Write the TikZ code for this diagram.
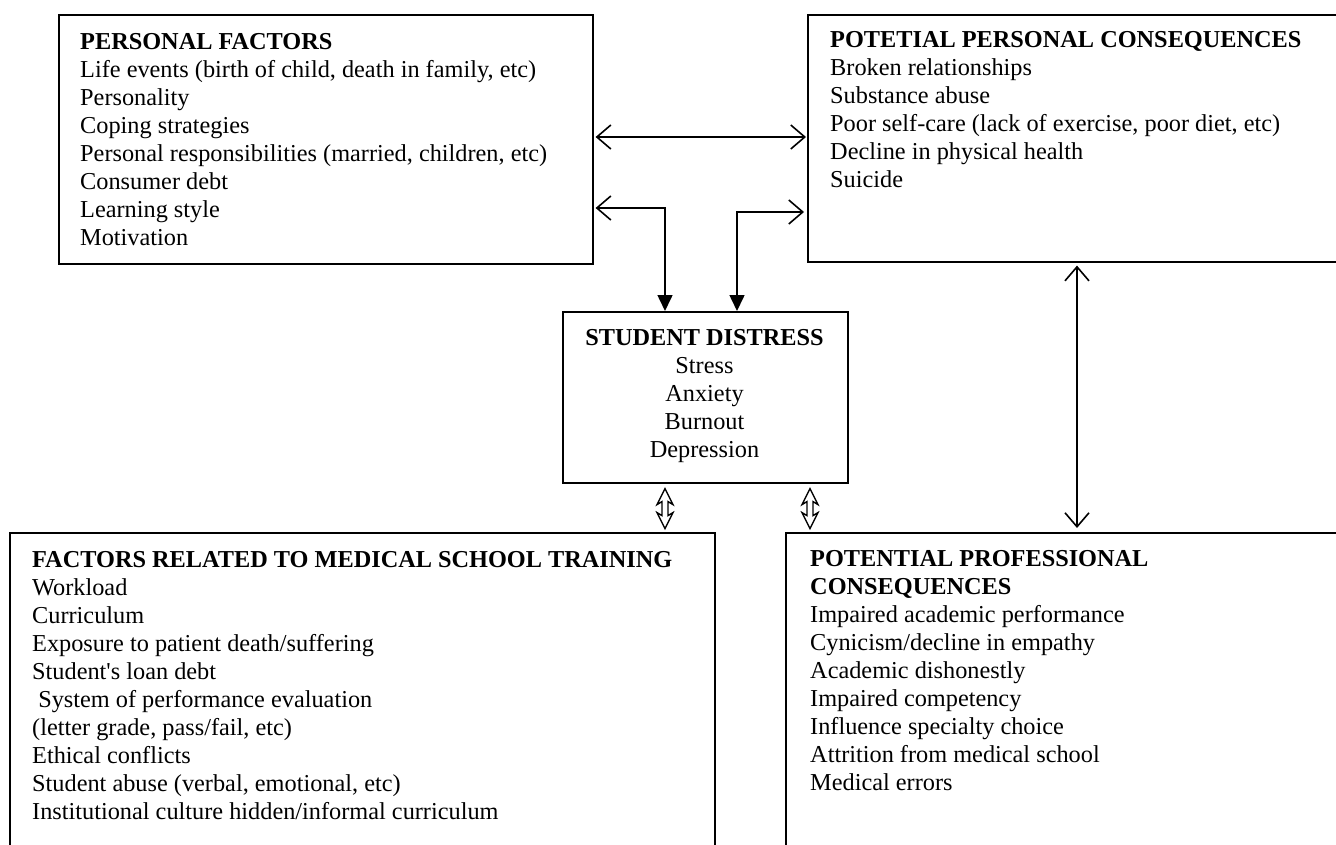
\documentclass[tikz,border=0pt]{standalone}
\usepackage{fontspec}
\setmainfont{Liberation Serif}
\usetikzlibrary{arrows.meta,calc}
\tikzset{
  boxnode/.style={draw, line width=1.6pt, inner sep=0pt, anchor=north west},
  txtnode/.style={inner sep=0pt, anchor=north west, align=left, font=\fontsize{24.3}{28}\selectfont},
  conn/.style={line width=1.6pt},
  barb/.tip={Straight Barb[length=14pt,width=24pt,line width=1.6pt]},
  tri/.tip={Triangle[length=16pt,width=15pt]},
  hollowdbl/.style={line width=1.4pt, line join=miter}
}
\begin{document}
\begin{tikzpicture}[x=1pt,y=-1pt]
\useasboundingbox (0,0) rectangle (1336,845);
\clip (0,0) rectangle (1336,845);
\fill[white] (0,0) rectangle (1336,845);

% boxes
\node[boxnode, minimum width=534pt, minimum height=249pt] (pf) at (58,14) {};
\node[boxnode, minimum width=560pt, minimum height=247pt] (pc) at (807,14) {};
\node[boxnode, minimum width=285pt, minimum height=171pt] (sd) at (562,311) {};
\node[boxnode, minimum width=705pt, minimum height=340pt] (fms) at (9,532) {};
\node[boxnode, minimum width=600pt, minimum height=340pt] (ppc) at (785,532) {};

% texts
\node[txtnode] (pft) at (80,29.4) {\strut\textbf{PERSONAL FACTORS}\\
Life events (birth of child, death in family, etc)\\
Personality\\
Coping strategies\\
Personal responsibilities (married, children, etc)\\
Consumer debt\\
Learning style\\
Motivation};

\node[txtnode] (pct) at (830,27.4) {\strut\textbf{POTETIAL PERSONAL CONSEQUENCES}\\
Broken relationships\\
Substance abuse\\
Poor self-care (lack of exercise, poor diet, etc)\\
Decline in physical health\\
Suicide};

\node[txtnode, anchor=north, align=center] (sdt) at (704.5,325.4) {\strut\textbf{STUDENT DISTRESS}\\
Stress\\
Anxiety\\
Burnout\\
Depression};

\node[txtnode] (fmst) at (32,547.4) {\strut\textbf{FACTORS RELATED TO MEDICAL SCHOOL TRAINING}\\
Workload\\
Curriculum\\
Exposure to patient death/suffering\\
Student\textquotesingle s loan debt\\
\ System of performance evaluation\\
(letter grade, pass/fail, etc)\\
Ethical conflicts\\
Student abuse (verbal, emotional, etc)\\
Institutional culture hidden/informal curriculum};

\node[txtnode] (ppct) at (810,546.4) {\strut\textbf{POTENTIAL PROFESSIONAL}\\
\textbf{CONSEQUENCES}\\
Impaired academic performance\\
Cynicism/decline in empathy\\
Academic dishonestly\\
Impaired competency\\
Influence specialty choice\\
Attrition from medical school\\
Medical errors};

% connector helper coordinates
\coordinate (h1) at (700,137);
\coordinate (c1) at (665,208);
\coordinate (c2) at (737,212);
\coordinate (v4) at (1077,400);
\coordinate (d1) at (665,507);
\coordinate (d2) at (810,507);

% connectors
\draw[conn, {barb}-{barb}, shorten <=2pt, shorten >=1pt] (pf.east |- h1) -- (pc.west |- h1);
\draw[conn, {barb}-{tri}, shorten <=2pt] (pf.east |- c1) -- (c1) -- (c1 |- sd.north);
\draw[conn, {tri}-{barb}, shorten >=3pt] (c2 |- sd.north) -- (c2) -- (c2 -| pc.west);
\draw[conn, {barb}-{barb}, shorten <=3pt, shorten >=4pt] (v4 |- pc.south) -- (v4 |- ppc.north);
% hollow up-down arrows between student distress and the lower boxes
\draw[hollowdbl] ($(d1 |- sd.south)+(0,5)$) -- ++(-8,16) -- ++(5,-3) -- ++(0,14) -- ++(-5,-3) -- ++(8,16) -- ++(8,-16) -- ++(-5,3) -- ++(0,-14) -- ++(5,3) -- cycle;
\draw[hollowdbl] ($(d2 |- sd.south)+(0,5)$) -- ++(-8,16) -- ++(5,-3) -- ++(0,14) -- ++(-5,-3) -- ++(8,16) -- ++(8,-16) -- ++(-5,3) -- ++(0,-14) -- ++(5,3) -- cycle;
\end{tikzpicture}
\end{document}
